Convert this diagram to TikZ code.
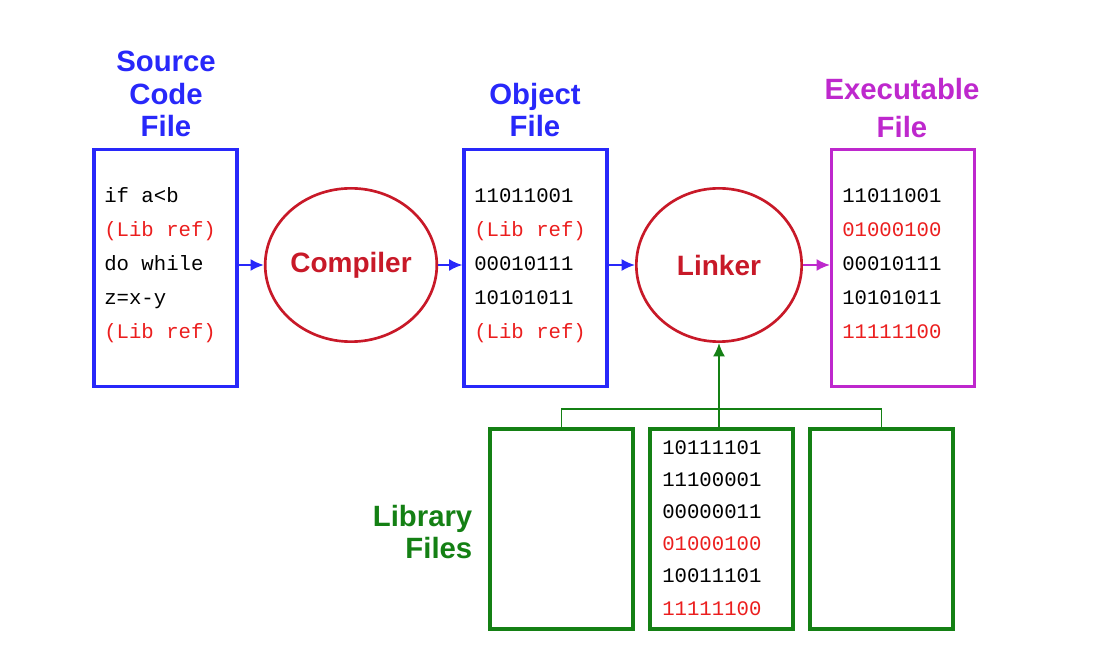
\documentclass[tikz,border=0pt]{standalone}
\usepackage{fontspec}
\setmainfont{Liberation Sans}
\newfontfamily\monof{Liberation Mono}
\usetikzlibrary{arrows.meta,shapes.geometric}
\definecolor{cblue}{RGB}{40,40,250}
\definecolor{cred}{RGB}{200,25,40}
\definecolor{cmag}{RGB}{190,40,205}
\definecolor{cgreen}{RGB}{20,128,20}
\definecolor{tred}{RGB}{235,30,30}
\begin{document}
\begin{tikzpicture}[x=0.75pt,y=-0.75pt,
  file/.style={draw,line width=2.6pt,minimum width=107pt,minimum height=178pt,inner sep=0pt},
  lib/.style={draw=cgreen,line width=3pt,minimum width=107pt,minimum height=150pt,inner sep=0pt},
  proc/.style={ellipse,draw=cred,line width=2pt,inner sep=0pt,minimum width=124pt,minimum height=115pt,text=cred,font=\bfseries\fontsize{21}{24}\selectfont},
  title/.style={font=\bfseries\fontsize{22}{24.5}\selectfont,align=center},
  code/.style={anchor=base west,font=\monof\fontsize{15.5}{16}\selectfont,inner sep=0pt},
  arr/.style={line width=1.5pt,-{Latex[length=10pt,width=9pt]}}]
\useasboundingbox (0,0) rectangle (1107,655);
\node[file,draw=cblue] (src) at (165.5,268) {};
\node[proc] (comp) at (351,265) {Compiler};
\node[file,draw=cblue] (obj) at (535.5,268) {};
\node[proc] (link) at (719,265) {Linker};
\node[file,draw=cmag] (exe) at (903,268) {};
\node[lib] (l1) at (561.5,529) {};
\node[lib] (l2) at (721.5,529) {};
\node[lib] (l3) at (881.5,529) {};
\node[title,text=cblue] (tsrc) at (166,94) {Source\\Code\\File};
\node[title,text=cblue] (tobj) at (535,110) {Object\\File};
\node[title,text=cmag,font=\bfseries\fontsize{22}{28}\selectfont] (texe) at (902,108) {Executable\\File};
\node[title,text=cgreen,align=right,anchor=east] (tlib) at (477,532) {Library\\Files};
% code
\node[code] (s1) at (104,203) {if a<b};
\node[code,text=tred] (s2) at (104,237) {(Lib ref)};
\node[code] (s3) at (104,271) {do while};
\node[code] (s4) at (104,305) {z=x-y};
\node[code,text=tred] (s5) at (104,339) {(Lib ref)};
\node[code] (o1) at (474,203) {11011001};
\node[code,text=tred] (o2) at (474,237) {(Lib ref)};
\node[code] (o3) at (474,271) {00010111};
\node[code] (o4) at (474,305) {10101011};
\node[code,text=tred] (o5) at (474,339) {(Lib ref)};
\node[code] (e1) at (842,203) {11011001};
\node[code,text=tred] (e2) at (842,237) {01000100};
\node[code] (e3) at (842,271) {00010111};
\node[code] (e4) at (842,305) {10101011};
\node[code,text=tred] (e5) at (842,339) {11111100};
\node[code] (b1) at (662,455) {10111101};
\node[code] (b2) at (662,487) {11100001};
\node[code] (b3) at (662,519) {00000011};
\node[code,text=tred] (b4) at (662,551) {01000100};
\node[code] (b5) at (662,583) {10011101};
\node[code,text=tred] (b6) at (662,615) {11111100};
% arrows
\draw[arr,cblue] (src.east|-comp.center) -- (comp.west);
\draw[arr,cblue] (comp.east) -- (obj.west|-comp.center);
\draw[arr,cblue] (obj.east|-link.center) -- (link.west);
\draw[arr,cmag] (link.east) -- (exe.west|-link.center);
\coordinate (bus) at (719,409);
\draw[cgreen,line width=1.3pt] (l1.north) |- (bus) -| (l3.north);
\draw[cgreen,line width=1.3pt] (bus) -- (bus|-l2.north);
\draw[arr,cgreen] (bus) -- (link.south);
\end{tikzpicture}
\end{document}
